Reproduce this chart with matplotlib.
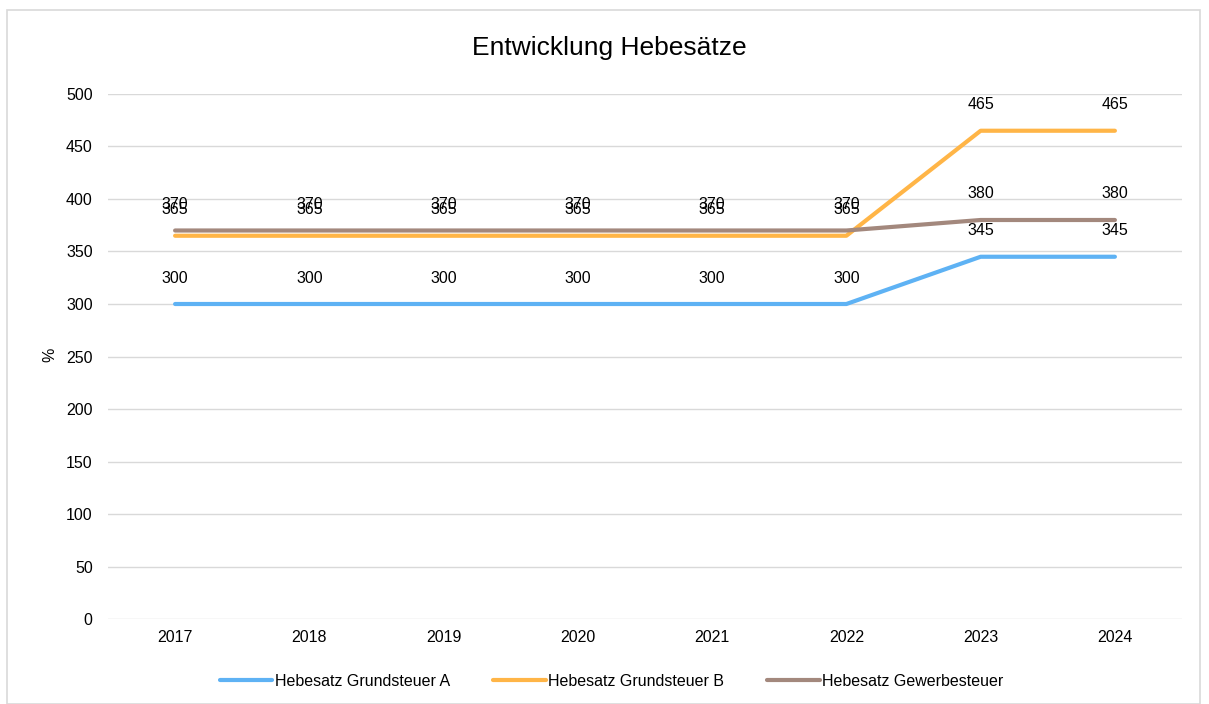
import matplotlib.pyplot as plt
from matplotlib.patches import Rectangle

plt.rcParams['font.family'] = ['Liberation Sans', 'DejaVu Sans']

jahre = ['2017', '2018', '2019', '2020', '2021', '2022', '2023', '2024']
grundsteuer_a = [300, 300, 300, 300, 300, 300, 345, 345]
grundsteuer_b = [365, 365, 365, 365, 365, 365, 465, 465]
gewerbesteuer = [370, 370, 370, 370, 370, 370, 380, 380]

serien = [
    ('Hebesatz Grundsteuer A', grundsteuer_a, '#5EB2F4'),
    ('Hebesatz Grundsteuer B', grundsteuer_b, '#FFB547'),
    ('Hebesatz Gewerbesteuer', gewerbesteuer, '#A3887D'),
]

fs = 11.5

fig = plt.figure(figsize=(12.09, 7.04), dpi=100)
ax = fig.add_axes([0.0893, 0.1207, 0.8884, 0.7458])

# grauer Rahmen um das Diagramm
fig.patches.append(Rectangle((7 / 1209, 0), 1193 / 1209, 1 - 10 / 704, transform=fig.transFigure,
                             fill=False, edgecolor='#D9D9D9', linewidth=1.2))

x = range(len(jahre))
for name, werte, farbe in serien:
    ax.plot(x, werte, color=farbe, linewidth=3, solid_capstyle='round', label=name)
    for xi, wert in zip(x, werte):
        ax.annotate(str(wert), (xi, wert), xytext=(0, 26), textcoords='offset pixels',
                    ha='center', va='center', fontsize=fs, color='#000000')

ax.set_xlim(-0.5, len(jahre) - 0.5)
ax.set_ylim(0, 500)
ax.set_yticks(range(0, 501, 50))
ax.set_xticks(list(x))
ax.set_xticklabels(jahre)
ax.tick_params(axis='both', length=0, labelsize=fs, colors='#000000', pad=8)
ax.tick_params(axis='y', pad=11)
ax.grid(axis='y', color='#D9D9D9', linewidth=1)
ax.set_axisbelow(True)
for s in ax.spines.values():
    s.set_visible(False)

fig.text(50 / 1209, 1 - 355 / 704, '%', rotation=90, ha='center', va='center', fontsize=fs)
fig.text(609 / 1209, 1 - 48 / 704, 'Entwicklung Hebesätze', ha='center', va='center', fontsize=19)

fig.legend(loc='center', bbox_to_anchor=(0.506, 1 - 681 / 704), ncol=3, frameon=False, fontsize=fs,
           handlelength=3.3, handletextpad=0.15, columnspacing=2.7)

fig.savefig('out.png', dpi=100, facecolor='white')
